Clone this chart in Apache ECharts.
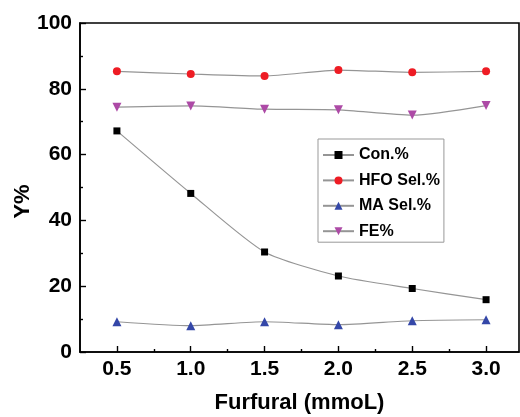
<!DOCTYPE html>
<html>
<head>
<meta charset="utf-8">
<script src="https://cdn.jsdelivr.net/npm/echarts@6/dist/echarts.min.js"></script>
<style>html,body{margin:0;padding:0;background:#fff}#c{width:520px;height:417px}</style>
</head>
<body>
<div id="c"></div>
<script>
const furfural = [0.5, 1.0, 1.5, 2.0, 2.5, 3.0];
const conversion = [67.2, 48.2, 30.4, 23.1, 19.3, 15.9];
const hfoSel = [85.3, 84.5, 83.9, 85.7, 85.0, 85.3];
const maSel = [9.2, 8.0, 9.2, 8.3, 9.5, 9.8];
const fe = [74.4, 74.8, 73.8, 73.6, 72.0, 74.9];
const xMajorTicks = [0.5, 1.0, 1.5, 2.0, 2.5, 3.0];
const xMinorTicks = [0.75, 1.25, 1.75, 2.25, 2.75];
const seriesNames = ['Con.%', 'HFO Sel.%', 'MA Sel.%', 'FE%'];

const FONT = '"Liberation Sans", Arial, sans-serif';
const pairs = v => furfural.map((x, i) => [x, v[i]]);
const chart = echarts.init(document.getElementById('c'), null, {renderer: 'canvas'});

function mk(name, data, symbol, color, size) {
  return {
    name, type: 'line', data: pairs(data), symbol, symbolSize: size,
    smooth: 0.22, showSymbol: true,
    lineStyle: {color: '#959595', width: 1.2},
    itemStyle: {color: color, borderWidth: 0},
    z: 3
  };
}

chart.setOption({
  animation: false,
  backgroundColor: '#fff',
  grid: {left: 80, top: 23, right: 1, bottom: 65, outerBoundsMode: 'none', containLabel: false,
         show: true, borderColor: '#000', borderWidth: 1.6, backgroundColor: 'transparent'},
  legend: {
    orient: 'vertical', left: 318, top: 139,
    padding: [8, 4, 3, 4], itemGap: 9.4, itemWidth: 31, itemHeight: 10,
    borderColor: '#999', borderWidth: 1, backgroundColor: '#fff',
    textStyle: {fontFamily: FONT, fontWeight: 'bold', fontSize: 16, color: '#000', lineHeight: 16},
    data: seriesNames
  },
  xAxis: [{
    type: 'value', min: 0.25, max: 3.223,
    name: 'Furfural (mmoL)', nameLocation: 'middle', nameGap: 40, nameMoveOverlap: false,
    nameTextStyle: {fontFamily: FONT, fontWeight: 'bold', fontSize: 22, color: '#000'},
    axisLine: {show: true, onZero: false, lineStyle: {color: '#000', width: 1.6}},
    axisTick: {show: true, inside: true, length: 6, customValues: xMajorTicks, lineStyle: {color: '#000', width: 1.4}},
    axisLabel: {customValues: xMajorTicks, margin: 7, fontFamily: FONT, fontWeight: 'bold', fontSize: 21, color: '#000', formatter: v => v.toFixed(1)},
    splitLine: {show: false}
  }, {
    type: 'value', min: 0.25, max: 3.223, position: 'bottom', offset: 0,
    axisLine: {show: false},
    axisTick: {show: true, inside: true, length: 3, customValues: xMinorTicks, lineStyle: {color: '#000', width: 1.4}},
    axisLabel: {show: false},
    splitLine: {show: false}
  }],
  yAxis: {
    type: 'value', min: 0, max: 100, interval: 20,
    name: 'Y%', nameLocation: 'middle', nameGap: 46, nameMoveOverlap: false,
    nameTextStyle: {fontFamily: FONT, fontWeight: 'bold', fontSize: 22, color: '#000', padding: [0, 28, 0, 0]},
    axisLine: {show: true, lineStyle: {color: '#000', width: 1.6}},
    axisTick: {show: true, inside: true, length: 6, lineStyle: {color: '#000', width: 1.4}},
    minorTick: {show: true, splitNumber: 2, length: 3, lineStyle: {color: '#000', width: 1.4}},
    axisLabel: {margin: 8, fontFamily: FONT, fontWeight: 'bold', fontSize: 21, color: '#000'},
    splitLine: {show: false}
  },
  series: [
    mk(seriesNames[0], conversion, 'rect', '#000000', 7),
    mk(seriesNames[1], hfoSel, 'circle', '#ee1c24', 8),
    mk(seriesNames[2], maSel, 'triangle', '#3447a8', 9),
    Object.assign(mk(seriesNames[3], fe, 'triangle', '#ad4aa6', 9), {symbolRotate: 180})
  ]
});
</script>
</body>
</html>
